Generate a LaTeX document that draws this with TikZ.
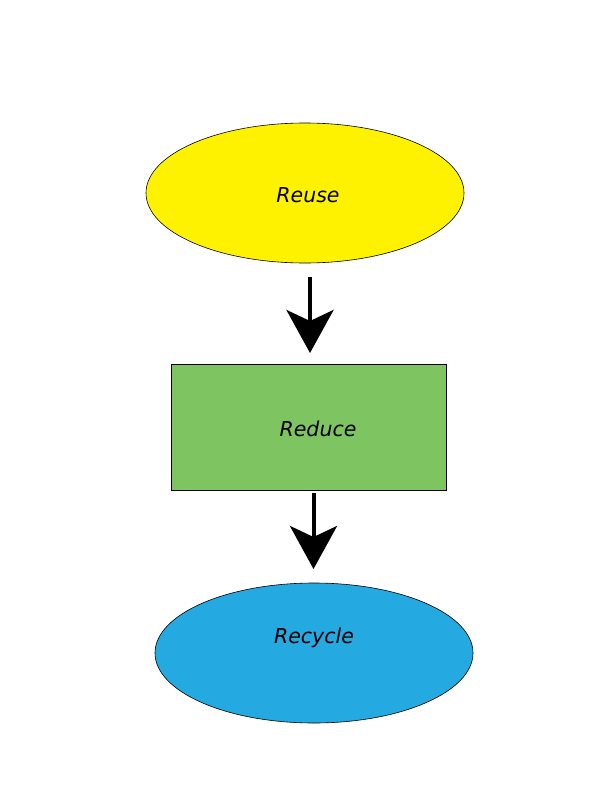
\documentclass[tikz,border=0pt]{standalone}
\usepackage{fontspec}
\setmainfont{DejaVu Sans}
\usetikzlibrary{arrows.meta,shapes.geometric}
\begin{document}
\begin{tikzpicture}[x=1pt,y=-1pt,
  lbl/.style={font=\fontsize{20.5}{24}\selectfont\itshape},
  ell/.style={draw=black,line width=0.6pt,ellipse,inner sep=0pt,minimum width=318pt,minimum height=140pt},
  box/.style={draw=black,line width=0.6pt,rectangle,inner sep=0pt,minimum width=275pt,minimum height=126pt},
  flow/.style={line width=4pt,-{Stealth[length=43pt,width=47pt,inset=11pt]}}]
\useasboundingbox[fill=white] (0,0) rectangle (612,792);
\node[ell,fill={rgb,255:red,255;green,242;blue,0}] (reuse) at (305,193) {};
\node[lbl] (reusetxt) at (308,195) {Reuse};
\node[box,fill={rgb,255:red,126;green,196;blue,96}] (reduce) at (308.5,427) {};
\node[lbl] (reducetxt) at (318,429) {Reduce};
\node[ell,fill={rgb,255:red,36;green,169;blue,225}] (recycle) at (314,653) {};
\node[lbl] (recycletxt) at (314,638) {Recycle};
\coordinate (a1s) at (310,277);
\coordinate (a1e) at (310,353);
\coordinate (a2s) at (313.5,493);
\coordinate (a2e) at (313.5,569);
\draw[flow] (a1s) -- (a1e);
\draw[flow] (a2s) -- (a2e);
\end{tikzpicture}
\end{document}
